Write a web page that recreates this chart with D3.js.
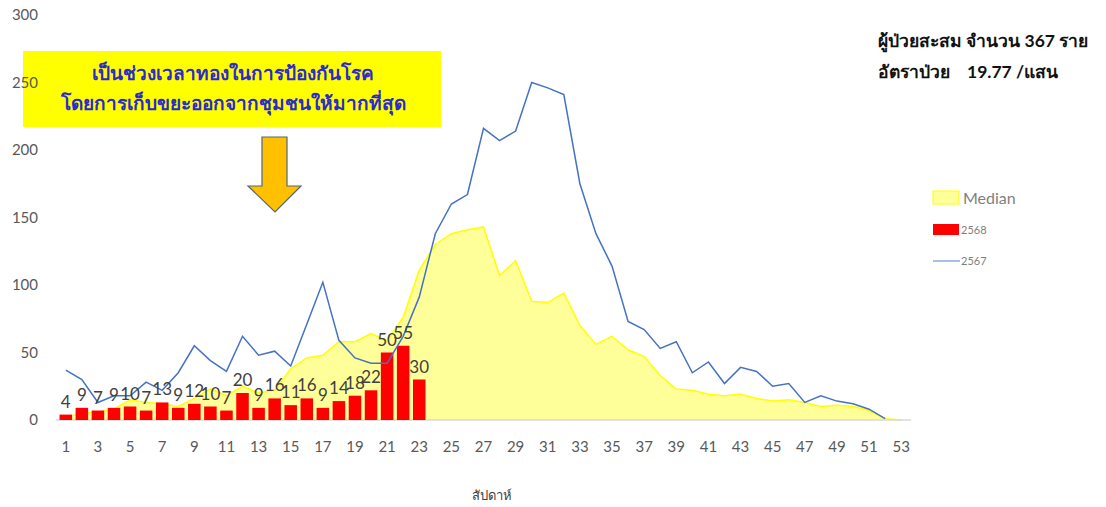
<!DOCTYPE html>
<html>
<head>
<meta charset="utf-8">
<title>ผู้ป่วยรายสัปดาห์</title>
<script src="https://cdn.jsdelivr.net/npm/d3@7"></script>
<style>
	body { margin: 0; background: #fff; font-family: Lato, "Noto Sans", sans-serif; }
	.tick-label { fill: #595959; font-size: 15px; }
	.bar-label { fill: #404040; font-size: 17px; text-anchor: middle; }
	.note { font-size: 17.5px; font-weight: bold; fill: #111; }
	.box-text { font-size: 19px; font-weight: bold; fill: #2a2ad0; text-anchor: middle; }
	.legend-text { fill: #7f7f7f; }
</style>
</head>
<body>
<svg width="1106" height="507"></svg>
<script>
	var weeks = d3.range(1, 54);

	// 2568 weekly cases (weeks 1-23)
	var cases2568 = [4, 9, 7, 9, 10, 7, 13, 9, 12, 10, 7, 20, 9, 16, 11, 16, 9, 14, 18, 22, 50, 55, 30];

	// 2567 weekly cases (weeks 1-52)
	var cases2567 = [37, 30, 13, 18, 18, 28, 22, 35, 55, 44, 36, 62, 48, 51, 40, 71, 102, 59, 46, 42,
		42, 62, 91, 138, 160, 167, 216, 207, 214, 250, 246, 241, 175, 138, 114, 73, 67, 53, 58, 35,
		43, 27, 39, 36, 25, 27, 13, 18, 14, 12, 8, 1];

	// median (weeks 1-53)
	var median = [2, 5, 6, 8, 15, 13, 12, 10, 16, 23, 18, 25, 20, 22, 38, 46, 48, 58, 58, 64,
		59, 76, 111, 130, 138, 141, 143, 107, 118, 88, 87, 94, 70, 56, 62, 52, 47, 33, 23, 22,
		19, 18, 19, 16, 14, 15, 13, 10, 11, 10, 7, 1, 0];

	var yTicks = [0, 50, 100, 150, 200, 250, 300];
	var xTickWeeks = weeks.filter(function(w) { return w % 2 === 1; });

	var svg = d3.select("svg");

	var x = d3.scaleBand()
		.domain(weeks)
		.range([56, 911])
		.padding(0.22);

	var y = d3.scaleLinear()
		.domain([0, 300])
		.range([420, 15]);

	function cx(w) { return x(w) + x.bandwidth() / 2; }

	// median area
	var area = d3.area()
		.x(function(d, i) { return cx(i + 1); })
		.y0(y(0))
		.y1(function(d) { return y(d); });

	svg.append("path")
		.datum(median)
		.attr("d", area)
		.attr("fill", "#ffff99");

	svg.append("path")
		.datum(median)
		.attr("d", d3.line().x(function(d, i) { return cx(i + 1); }).y(function(d) { return y(d); }))
		.attr("fill", "none")
		.attr("stroke", "#ffff00")
		.attr("stroke-width", 1.5);

	// baseline
	svg.append("line")
		.attr("x1", 56).attr("x2", 911)
		.attr("y1", y(0)).attr("y2", y(0))
		.attr("stroke", "#d9d9d9")
		.attr("stroke-width", 1.5);

	// 2568 bars
	svg.append("g")
		.selectAll("rect")
		.data(cases2568)
		.enter().append("rect")
		.attr("x", function(d, i) { return x(i + 1); })
		.attr("y", function(d) { return y(d); })
		.attr("width", x.bandwidth())
		.attr("height", function(d) { return y(0) - y(d); })
		.attr("fill", "#ff0000");

	// 2567 line
	svg.append("path")
		.datum(cases2567)
		.attr("d", d3.line().x(function(d, i) { return cx(i + 1); }).y(function(d) { return y(d); }))
		.attr("fill", "none")
		.attr("stroke", "#4472c4")
		.attr("stroke-width", 1.5);

	// bar value labels
	svg.append("g")
		.selectAll("text")
		.data(cases2568)
		.enter().append("text")
		.attr("class", "bar-label")
		.attr("x", function(d, i) { return cx(i + 1); })
		.attr("y", function(d) { return y(d) - 7; })
		.text(function(d) { return d; });

	// x labels
	svg.append("g")
		.selectAll("text")
		.data(xTickWeeks)
		.enter().append("text")
		.attr("class", "tick-label")
		.attr("x", function(d) { return cx(d); })
		.attr("y", 447)
		.attr("dy", "0.35em")
		.attr("text-anchor", "middle")
		.text(function(d) { return d; });

	svg.append("text")
		.attr("x", 492)
		.attr("y", 495)
		.attr("dy", "0.35em")
		.attr("text-anchor", "middle")
		.attr("fill", "#404040")
		.style("font-size", "13px")
		.text("สัปดาห์");

	// yellow note box
	svg.append("rect")
		.attr("x", 23).attr("y", 51)
		.attr("width", 418).attr("height", 76)
		.attr("fill", "#ffff00");

	svg.append("text")
		.attr("class", "box-text")
		.attr("x", 233).attr("y", 80)
		.text("เป็นช่วงเวลาทองในการป้องกันโรค");

	svg.append("text")
		.attr("class", "box-text")
		.attr("x", 233).attr("y", 110)
		.text("โดยการเก็บขยะออกจากชุมชนให้มากที่สุด");

	// y labels (no axis line), drawn over the note box
	svg.append("g")
		.selectAll("text")
		.data(yTicks)
		.enter().append("text")
		.attr("class", "tick-label")
		.attr("x", 38)
		.attr("y", function(d) { return y(d); })
		.attr("dy", "0.35em")
		.attr("text-anchor", "end")
		.text(function(d) { return d; });

	// arrow
	svg.append("path")
		.attr("d", "M262,137 L287,137 L287,186 L301,186 L275,212 L248,186 L262,186 Z")
		.attr("fill", "#ffc000")
		.attr("stroke", "#52677f")
		.attr("stroke-width", 1.2);

	// summary text
	svg.append("text")
		.attr("class", "note")
		.attr("x", 878).attr("y", 47)
		.text("ผู้ป่วยสะสม จำนวน 367 ราย");

	svg.append("text")
		.attr("class", "note")
		.attr("x", 878).attr("y", 78)
		.attr("xml:space", "preserve")
		.style("white-space", "pre")
		.text("อัตราป่วย    19.77 /แสน");

	// legend
	var lg = svg.append("g");
	lg.append("rect")
		.attr("x", 933).attr("y", 191).attr("width", 26).attr("height", 13)
		.attr("fill", "#ffff99").attr("stroke", "#ffff00").attr("stroke-width", 1);
	lg.append("text").attr("class", "legend-text")
		.attr("x", 963).attr("y", 198).attr("dy", "0.35em")
		.style("font-size", "16px").attr("fill", "#595959")
		.text("Median");
	lg.append("rect")
		.attr("x", 933).attr("y", 224).attr("width", 26).attr("height", 11)
		.attr("fill", "#ff0000");
	lg.append("text").attr("class", "legend-text")
		.attr("x", 961).attr("y", 230).attr("dy", "0.35em")
		.style("font-size", "11px")
		.text("2568");
	lg.append("line")
		.attr("x1", 933).attr("x2", 960).attr("y1", 261).attr("y2", 261)
		.attr("stroke", "#8faadc").attr("stroke-width", 1.5);
	lg.append("text").attr("class", "legend-text")
		.attr("x", 961).attr("y", 261).attr("dy", "0.35em")
		.style("font-size", "11px")
		.text("2567");
</script>
</body>
</html>
